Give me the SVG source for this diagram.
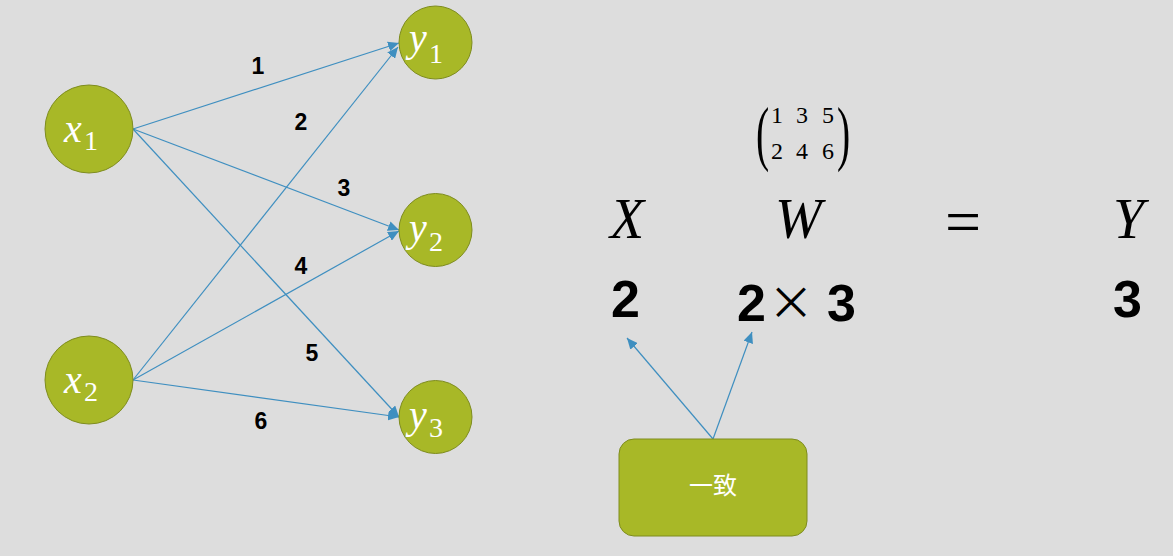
<svg xmlns="http://www.w3.org/2000/svg" width="1173" height="556" viewBox="0 0 1173 556">
<style>
.node{fill:#A8B827;stroke:#7E8C1E;stroke-width:1}
.edge{stroke:#3F8FC0;stroke-width:1.2;fill:none}
.math{font-family:"Liberation Serif","DejaVu Serif",serif;font-style:italic;fill:#fff}
.sub{font-family:"Liberation Serif","DejaVu Serif",serif;fill:#fff}
.lbl{font-family:"Liberation Sans","Noto Sans",sans-serif;font-weight:bold;font-size:23px;fill:#000;text-anchor:middle}
.big{font-family:"Liberation Serif","DejaVu Serif",serif;font-style:italic;font-size:56px;fill:#000}
.num{font-family:"Liberation Sans","Noto Sans",sans-serif;font-weight:bold;font-size:52px;fill:#000}
.mat{font-family:"Liberation Serif","DejaVu Serif",serif;font-size:24px;fill:#000;text-anchor:middle}
</style>
<defs>
<marker id="arr" markerUnits="userSpaceOnUse" markerWidth="12" markerHeight="10" refX="11" refY="5" orient="auto">
<path d="M0,0 L11,5 L0,10 Z" fill="#3F8FC0"/>
</marker>
</defs>
<rect width="1173" height="556" fill="#DDDDDD"/>
<g id="connectors">
<line class="edge" x1="133" y1="129" x2="399" y2="43" marker-end="url(#arr)"/>
<line class="edge" x1="133" y1="129" x2="399" y2="230" marker-end="url(#arr)"/>
<line class="edge" x1="133" y1="129" x2="399" y2="417" marker-end="url(#arr)"/>
<line class="edge" x1="133" y1="380" x2="398" y2="47" marker-end="url(#arr)"/>
<line class="edge" x1="133" y1="380" x2="399" y2="231" marker-end="url(#arr)"/>
<line class="edge" x1="133" y1="380" x2="399" y2="417" marker-end="url(#arr)"/>
<line class="edge" x1="713" y1="439" x2="627" y2="338" marker-end="url(#arr)"/>
<line class="edge" x1="713" y1="439" x2="752" y2="332" marker-end="url(#arr)"/>
</g>
<g id="edge-labels">
<text class="lbl" x="258" y="74">1</text>
<text class="lbl" x="301" y="130">2</text>
<text class="lbl" x="344" y="196">3</text>
<text class="lbl" x="301" y="274">4</text>
<text class="lbl" x="312" y="361">5</text>
<text class="lbl" x="261" y="429">6</text>
</g>
<g id="x1"><circle class="node" cx="89" cy="129" r="44"/><text class="math" x="64" y="142" font-size="40">x</text><text class="sub" x="84" y="150" font-size="28">1</text></g>
<g id="x2"><circle class="node" cx="89" cy="380" r="44"/><text class="math" x="64" y="393" font-size="40">x</text><text class="sub" x="84" y="401" font-size="28">2</text></g>
<g id="y1"><circle class="node" cx="435.5" cy="42.5" r="36.5"/><text class="math" x="409" y="51" font-size="40">y</text><text class="sub" x="429" y="63" font-size="28">1</text></g>
<g id="y2"><circle class="node" cx="435.5" cy="230" r="36.5"/><text class="math" x="409" y="241" font-size="40">y</text><text class="sub" x="429" y="251" font-size="28">2</text></g>
<g id="y3"><circle class="node" cx="435.5" cy="417" r="36.5"/><text class="math" x="409" y="428" font-size="40">y</text><text class="sub" x="429" y="437" font-size="28">3</text></g>
<g id="matrix">
<text font-family="Liberation Serif, serif" font-size="72" transform="translate(756,157) scale(0.55,1)">(</text>
<text font-family="Liberation Serif, serif" font-size="72" transform="translate(837,157) scale(0.55,1)">)</text>
<text class="mat" x="777" y="123">1</text><text class="mat" x="802" y="123">3</text><text class="mat" x="828" y="123">5</text>
<text class="mat" x="777" y="159">2</text><text class="mat" x="802" y="159">4</text><text class="mat" x="828" y="159">6</text>
</g>
<g id="equation">
<text class="big" x="610" y="238">X</text>
<text class="big" x="775" y="238">W</text>
<text font-family="Liberation Serif, serif" font-size="64" x="945" y="243" fill="#000">=</text>
<text class="big" x="1113" y="238">Y</text>
<text class="num" x="611" y="317">2</text>
<text class="num" x="737" y="321">2</text>
<text font-family="Noto Sans CJK SC, sans-serif" font-size="46" x="791" y="319" fill="#000" text-anchor="middle">×</text>
<text class="num" x="827" y="321">3</text>
<text class="num" x="1113" y="317">3</text>
</g>
<g id="box"><rect class="node" x="619" y="439" width="188" height="97" rx="15"/><text x="713" y="494" font-family="Noto Sans CJK SC, sans-serif" font-size="24" fill="#fff" text-anchor="middle">一致</text></g>
</svg>
